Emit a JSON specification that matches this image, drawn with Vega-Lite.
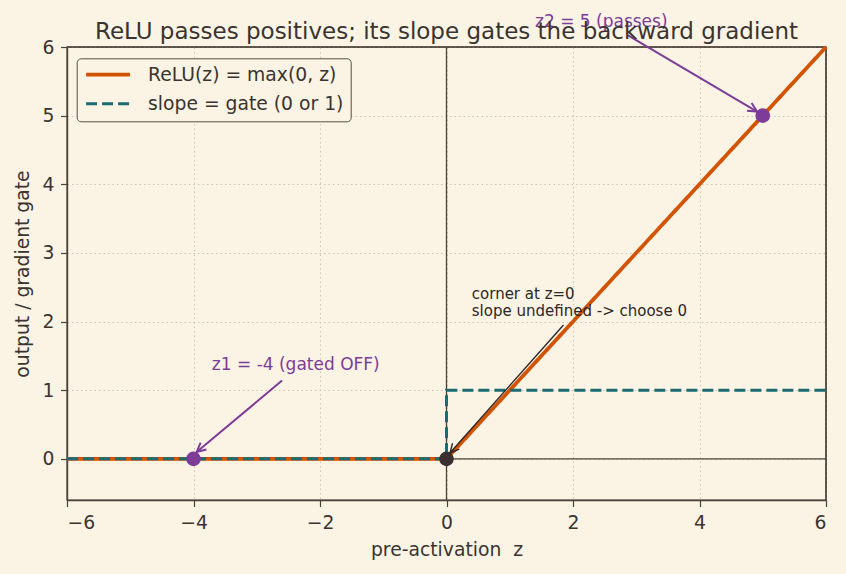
{
  "$schema": "https://vega.github.io/schema/vega-lite/v6.json",
  "width": 759,
  "height": 453,
  "autosize": {"type": "none"},
  "padding": {"left": 67, "top": 47, "right": 20, "bottom": 74},
  "background": "#fbf3e4",
  "title": {
    "text": "ReLU passes positives; its slope gates the backward gradient",
    "fontSize": 23,
    "font": "DejaVu Sans",
    "fontWeight": "normal",
    "color": "#3a3330",
    "anchor": "middle",
    "baseline": "alphabetic",
    "offset": 10,
    "dy": 59.5
  },
  "datasets": {
    "curves": [
      {"series": "ReLU(z) = max(0, z)", "i": 0, "z": -6, "out": 0},
      {"series": "ReLU(z) = max(0, z)", "i": 1, "z": 0, "out": 0},
      {"series": "ReLU(z) = max(0, z)", "i": 2, "z": 6, "out": 6},
      {"series": "slope = gate (0 or 1)", "i": 0, "z": -6, "out": 0},
      {"series": "slope = gate (0 or 1)", "i": 1, "z": 0, "out": 0},
      {"series": "slope = gate (0 or 1)", "i": 2, "z": 0, "out": 1},
      {"series": "slope = gate (0 or 1)", "i": 3, "z": 6, "out": 1}
    ],
    "probes": [{"z": -4}, {"z": 5}],
    "origin": [{"z": 0, "out": 0}],
    "edge": [{"z": 6, "out": 6}],
    "points": [
      {"id": "z1", "z": -4, "out": 0},
      {"id": "z2", "z": 5, "out": 5},
      {"id": "corner", "z": 0, "out": 0}
    ],
    "arrows": [
      {"id": "z1", "z": -3.95, "out": 0.1, "z0": -2.6, "out0": 1.14},
      {"id": "z2", "z": 4.91, "out": 5.06, "z0": 2.87, "out0": 6.17},
      {"id": "corner", "z": 0.055, "out": 0.085, "z0": 1.85, "out0": 1.95}
    ],
    "labels": [
      {"id": "z1", "z": -3.71, "out": 1.37, "text": "z1 = -4 (gated OFF)"},
      {"id": "z2", "z": 1.4, "out": 6.37, "text": "z2 = 5 (passes)"},
      {"id": "corner", "z": 0.4, "out": 2.4, "text": "corner at z=0"},
      {"id": "corner", "z": 0.4, "out": 2.155, "text": "slope undefined -> choose 0"}
    ]
  },
  "encoding": {
    "x": {
      "field": "z",
      "type": "quantitative",
      "scale": {"domain": [-6, 6], "nice": false, "zero": false},
      "axis": {"values": [-6, -4, -2, 0, 2, 4, 6], "title": "pre-activation \u00a0z"}
    },
    "y": {
      "field": "out",
      "type": "quantitative",
      "scale": {"domain": [-0.6, 6], "nice": false, "zero": false},
      "axis": {"values": [0, 1, 2, 3, 4, 5, 6], "title": "output / gradient gate"}
    }
  },
  "layer": [
    {
      "data": {"name": "probes"},
      "mark": {"type": "rule", "color": "#b5a5c6", "strokeWidth": 1.8, "strokeDash": [2, 2.5]},
      "encoding": {"y": {"datum": -0.6}, "y2": {"datum": 6}}
    },
    {
      "data": {"name": "origin"},
      "mark": {"type": "rule", "color": "#4d4238", "strokeWidth": 1.3},
      "encoding": {"y": {"datum": -0.6}, "y2": {"datum": 6}}
    },
    {
      "data": {"name": "origin"},
      "mark": {"type": "rule", "color": "#4d4238", "strokeWidth": 1.3},
      "encoding": {"x": {"datum": -6}, "x2": {"datum": 6}}
    },
    {
      "data": {"name": "edge"},
      "mark": {"type": "rule", "color": "#4d4238", "strokeWidth": 1.4},
      "encoding": {"y": {"datum": -0.6}, "y2": {"datum": 6}}
    },
    {
      "data": {"name": "edge"},
      "mark": {"type": "rule", "color": "#4d4238", "strokeWidth": 1.4},
      "encoding": {"x": {"datum": -6}, "x2": {"datum": 6}}
    },
    {
      "data": {"name": "curves"},
      "mark": {"type": "line"},
      "encoding": {
        "order": {"field": "i", "type": "quantitative"},
        "color": {
          "field": "series",
          "type": "nominal",
          "scale": {"domain": ["ReLU(z) = max(0, z)", "slope = gate (0 or 1)"], "range": ["#d35400", "#1a6b73"]},
          "legend": {"title": null}
        },
        "strokeDash": {
          "field": "series",
          "type": "nominal",
          "scale": {"domain": ["ReLU(z) = max(0, z)", "slope = gate (0 or 1)"], "range": [[1, 0], [11, 5]]},
          "legend": {"title": null}
        },
        "strokeWidth": {
          "field": "series",
          "type": "nominal",
          "scale": {"domain": ["ReLU(z) = max(0, z)", "slope = gate (0 or 1)"], "range": [3.8, 3]},
          "legend": {"title": null}
        }
      }
    },
    {
      "data": {"name": "arrows"},
      "transform": [{"filter": "datum.id !== 'corner'"}],
      "mark": {"type": "rule", "color": "#7d3c98", "strokeWidth": 2},
      "encoding": {"x2": {"field": "z0"}, "y2": {"field": "out0"}}
    },
    {
      "data": {"name": "arrows"},
      "transform": [{"filter": "datum.id === 'corner'"}],
      "mark": {"type": "rule", "color": "#2e2626", "strokeWidth": 1.4},
      "encoding": {"x2": {"field": "z0"}, "y2": {"field": "out0"}}
    },
    {
      "data": {"name": "arrows"},
      "transform": [{"filter": "datum.id === 'z1'"}],
      "mark": {"type": "point", "shape": "M-1,-0.5L0,0L-1,0.5", "size": 324, "angle": 139.7, "filled": false, "stroke": "#7d3c98", "strokeWidth": 2, "opacity": 1},
      "encoding": {}
    },
    {
      "data": {"name": "arrows"},
      "transform": [{"filter": "datum.id === 'z2'"}],
      "mark": {"type": "point", "shape": "M-1,-0.5L0,0L-1,0.5", "size": 324, "angle": 30.7, "filled": false, "stroke": "#7d3c98", "strokeWidth": 2, "opacity": 1},
      "encoding": {}
    },
    {
      "data": {"name": "points"},
      "transform": [{"filter": "datum.id !== 'corner'"}],
      "mark": {"type": "circle", "size": 215, "color": "#7d3c98", "opacity": 1},
      "encoding": {}
    },
    {
      "data": {"name": "points"},
      "transform": [{"filter": "datum.id === 'corner'"}],
      "mark": {"type": "circle", "size": 215, "color": "#3b2f2f", "opacity": 1},
      "encoding": {}
    },
    {
      "data": {"name": "arrows"},
      "transform": [{"filter": "datum.id === 'corner'"}],
      "mark": {"type": "point", "shape": "M-1,-0.5L0,0L-1,0.5", "size": 324, "angle": 131.4, "filled": false, "stroke": "#2e2626", "strokeWidth": 1.4, "opacity": 1},
      "encoding": {}
    },
    {
      "data": {"name": "labels"},
      "transform": [{"filter": "datum.id !== 'corner'"}],
      "mark": {"type": "text", "align": "left", "baseline": "middle", "fontSize": 17, "font": "DejaVu Sans", "color": "#7d3c98"},
      "encoding": {"text": {"field": "text"}}
    },
    {
      "data": {"name": "labels"},
      "transform": [{"filter": "datum.id === 'corner'"}],
      "mark": {"type": "text", "align": "left", "baseline": "middle", "fontSize": 15, "font": "DejaVu Sans", "color": "#2e2626"},
      "encoding": {"text": {"field": "text"}}
    }
  ],
  "config": {
    "font": "DejaVu Sans",
    "view": {"stroke": "#4d4238", "strokeWidth": 1.4},
    "axis": {
      "domain": true,
      "domainColor": "#4d4238",
      "domainWidth": 1.4,
      "grid": true,
      "gridColor": "#c8beaf",
      "gridDash": [1.5, 3],
      "gridWidth": 0.9,
      "ticks": true,
      "tickColor": "#4d4238",
      "tickSize": 6.5,
      "tickWidth": 1.2,
      "labelFont": "DejaVu Sans",
      "labelFontSize": 18.75,
      "labelColor": "#3a3330",
      "labelPadding": 6.5,
      "titleFont": "DejaVu Sans",
      "titleFontSize": 18.75,
      "titleColor": "#3a3330",
      "titleFontWeight": "normal"
    },
    "axisX": {"titlePadding": 9},
    "axisY": {"titlePadding": 10},
    "legend": {
      "orient": "none",
      "legendX": 9.7,
      "legendY": 11.3,
      "symbolType": "M-1.4,0L7.4,0",
      "symbolSize": 100,
      "labelFont": "DejaVu Sans",
      "labelFontSize": 18.75,
      "labelColor": "#3a3330",
      "labelOffset": 45.6,
      "labelLimit": 400,
      "padding": 7,
      "rowPadding": 9,
      "strokeColor": "#5a4d42",
      "fillColor": "#fbf3e4",
      "cornerRadius": 4
    }
  }
}
